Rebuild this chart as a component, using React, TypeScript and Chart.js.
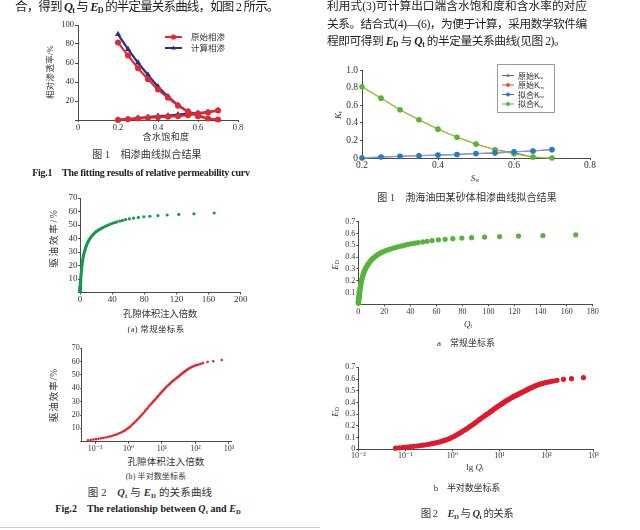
import React, { useEffect, useLayoutEffect, useRef } from 'react';
import { Chart, registerables } from 'chart.js';

Chart.register(...registerables);

const SERIF = "'Liberation Serif', 'DejaVu Serif', serif";
const CJK = "'Noto Sans CJK SC', 'Noto Sans', sans-serif";
const MIXED = "'Liberation Serif', 'Noto Sans CJK SC', serif";
const INK = '#333333';
const AXIS = '#4a4a4a';

// ---------- Fig.1 (left): relative permeability, % ----------
const SW_LEFT = [0.2, 0.25, 0.3, 0.35, 0.4, 0.45, 0.5, 0.55, 0.6, 0.65, 0.7];
const KRO_ORIG_LEFT = [81.5, 68, 54.5, 43, 32, 23.5, 15, 9, 4, 1.5, 0.5];
const KRW_ORIG_LEFT = [0, 0.8, 1.5, 2.2, 3, 3.5, 4, 5, 6.5, 8, 10];
const KRO_CALC_LEFT = [90.2, 74.5, 60.3, 47.4, 35.1, 24.6, 15.8, 8.8, 5.3, 1, 0];
const KRW_CALC_LEFT = [0.3, 1, 2, 3, 4, 4.6, 5.6, 6.7, 7.3, 8.4, 10.1];
const LEGEND_LEFT = ['原始相渗', '计算相渗'];

// ---------- Fig.1 (right): relative permeability, fraction ----------
const SW_RIGHT = [0.2, 0.25, 0.3, 0.35, 0.4, 0.45, 0.5, 0.55, 0.6, 0.65, 0.7];
const KRO_ORIG_RIGHT = [0.81, 0.68, 0.548, 0.434, 0.328, 0.236, 0.158, 0.094, 0.062, 0.01, 0];
const KRW_ORIG_RIGHT = [0, 0.011, 0.019, 0.026, 0.033, 0.04, 0.05, 0.053, 0.07, 0.08, 0.095];
const KRW_FIT_RIGHT = [0, 0.011, 0.019, 0.026, 0.033, 0.04, 0.05, 0.06, 0.07, 0.08, 0.095];
const KRO_FIT_RIGHT = [0.81, 0.68, 0.548, 0.434, 0.328, 0.236, 0.158, 0.094, 0.047, 0.01, 0];
const LEGEND_RIGHT = ['原始K_ro', '原始K_rw', '拟合K_rw', '拟合K_ro'];

// ---------- Fig.2: injected pore volumes Qt vs displacement efficiency ED ----------
const QT = [0.062, 0.075, 0.090, 0.107, 0.127, 0.150, 0.176, 0.205, 0.238, 0.275,
  0.316, 0.362, 0.413, 0.470, 0.533, 0.603, 0.680, 0.765, 0.858, 0.96,
  1.07, 1.19, 1.32, 1.46, 1.61, 1.78, 1.96, 2.16, 2.38, 2.62,
  2.88, 3.16, 3.47, 3.80, 4.16, 4.55, 4.97, 5.43, 5.93, 6.47,
  7.05, 7.68, 8.36, 9.09, 9.88, 10.7, 11.6, 12.6, 13.6, 14.7,
  15.9, 17.2, 18.6, 20.1, 21.7, 23.4, 25.2, 27.1, 29.1, 31.2,
  33.4, 35.7, 38.1, 40.6, 43.2, 45.9, 49.5, 52.8, 56.7, 61.5,
  66.7, 72.6, 79.5, 87, 97, 108.5, 123, 141.8, 167, 230,
  340, 610];
const ED = [0.010, 0.013, 0.016, 0.019, 0.022, 0.025, 0.028, 0.032, 0.035, 0.039,
  0.043, 0.048, 0.052, 0.057, 0.063, 0.069, 0.076, 0.083, 0.091, 0.100,
  0.109, 0.120, 0.130, 0.140, 0.151, 0.162, 0.172, 0.184, 0.196, 0.207,
  0.219, 0.231, 0.243, 0.255, 0.267, 0.278, 0.289, 0.300, 0.310, 0.321,
  0.332, 0.343, 0.353, 0.364, 0.374, 0.383, 0.392, 0.402, 0.411, 0.419,
  0.427, 0.435, 0.443, 0.451, 0.457, 0.464, 0.470, 0.477, 0.483, 0.489,
  0.495, 0.501, 0.507, 0.513, 0.518, 0.523, 0.529, 0.534, 0.540, 0.546,
  0.551, 0.556, 0.561, 0.565, 0.570, 0.574, 0.578, 0.583, 0.589, 0.597,
  0.603, 0.612];
const QT_REGULAR_MAX = 170;
const LOG_TICKS_LEFT = [0.1, 1, 10, 100, 1000];
const LOG_TICKS_RIGHT = [0.01, 0.1, 1, 10, 100, 1000];

// ---------- helpers ----------
type Frame = { left: number; top: number; w: number; h: number; x0: number; x1: number; y0: number; y1: number };

const F1: Frame = { left: 30, top: 15, w: 230, h: 130, x0: 78, x1: 238, y0: 25, y1: 120 };
const F2: Frame = { left: 322, top: 60, w: 288, h: 115, x0: 362, x1: 590, y0: 70, y1: 158 };
const F3: Frame = { left: 35, top: 188, w: 225, h: 125, x0: 80, x1: 240.7, y0: 198, y1: 292.5 };
const F4: Frame = { left: 325, top: 212, w: 285, h: 108, x0: 358.3, x1: 592.7, y0: 221.7, y1: 304.3 };
const F5: Frame = { left: 40, top: 338, w: 210, h: 118, x0: 81.7, x1: 231, y0: 348.3, y1: 441.7 };
const F6: Frame = { left: 325, top: 357, w: 285, h: 105, x0: 358.3, x1: 593.5, y0: 367.3, y1: 449.3 };

const pts = (xs: number[], ys: number[], k = 1) => xs.map((x, i) => ({ x, y: ys[i] * k }));

const SUP: Record<string, string> = { '-': '⁻', '0': '⁰', '1': '¹', '2': '²', '3': '³' };
const powLabel = (v: number) =>
  '10' + String(Math.round(Math.log10(v))).split('').map((c) => SUP[c] || c).join('');

function drawMarker(ctx: CanvasRenderingContext2D, style: string, x: number, y: number, r: number, color: string) {
  ctx.fillStyle = color;
  ctx.beginPath();
  if (style === 'triangle') {
    ctx.moveTo(x, y - r);
    ctx.lineTo(x + r * 0.95, y + r * 0.6);
    ctx.lineTo(x - r * 0.95, y + r * 0.6);
    ctx.closePath();
  } else {
    ctx.arc(x, y, r, 0, Math.PI * 2);
  }
  ctx.fill();
}

const insetLegend = {
  id: 'insetLegend',
  afterDraw(chart: any, _args: any, opts: any) {
    if (!opts || opts.x === undefined) return;
    const ctx: CanvasRenderingContext2D = chart.ctx;
    ctx.save();
    if (opts.boxW) {
      ctx.fillStyle = '#ffffff';
      ctx.fillRect(opts.boxX, opts.boxY, opts.boxW, opts.boxH);
      ctx.strokeStyle = '#9a9a9a';
      ctx.lineWidth = 1;
      ctx.strokeRect(opts.boxX + 0.5, opts.boxY + 0.5, opts.boxW, opts.boxH);
    }
    let row = 0;
    chart.data.datasets.forEach((ds: any) => {
      if (!ds.label) return;
      const cy = opts.y + row * opts.rowH;
      ctx.strokeStyle = ds.legendLine || ds.borderColor;
      ctx.lineWidth = opts.lineWidth;
      ctx.beginPath();
      ctx.moveTo(opts.x, cy);
      ctx.lineTo(opts.x + opts.lineLen, cy);
      ctx.stroke();
      drawMarker(ctx, ds.pointStyle, opts.x + opts.lineLen / 2, cy, opts.markerR, ds.pointBackgroundColor);
      const parts = String(ds.label).split('_');
      const tx = opts.x + opts.lineLen + opts.textGap;
      ctx.fillStyle = INK;
      ctx.textAlign = 'left';
      ctx.textBaseline = 'middle';
      ctx.font = `${opts.fontSize}px ${CJK}`;
      ctx.fillText(parts[0], tx, cy);
      if (parts[1]) {
        const wMain = ctx.measureText(parts[0]).width;
        ctx.font = `${opts.fontSize * 0.62}px ${SERIF}`;
        ctx.fillText(parts[1], tx + wMain, cy + opts.fontSize * 0.32);
      }
      row++;
    });
    ctx.restore();
  },
};

function axisOpts(o: {
  fontSize: number; tickLen: number; pad: number; type?: string; min: number; max: number;
  step?: number; callback?: (v: any) => string; logTicks?: number[]; dash?: number[];
}) {
  const s: any = {
    type: o.type || 'linear',
    min: o.min,
    max: o.max,
    grid: { display: true, drawOnChartArea: false, drawTicks: true, tickLength: o.tickLen, color: AXIS, lineWidth: 1 },
    border: { display: true, color: AXIS, width: 1, dash: o.dash || [] },
    ticks: {
      font: { family: SERIF, size: o.fontSize },
      color: INK,
      padding: o.pad,
      maxRotation: 0,
      minRotation: 0,
      autoSkip: false,
    },
  };
  if (o.step !== undefined) s.ticks.stepSize = o.step;
  if (o.callback) s.ticks.callback = o.callback;
  if (o.logTicks) {
    const lt = o.logTicks;
    s.afterBuildTicks = (scale: any) => {
      scale.ticks = lt.map((v) => ({ value: v }));
    };
  }
  return s;
}

function makeOptions(f: Frame, x: any, y: any, legend: any = null) {
  const leg = legend
    ? {
        ...legend,
        x: legend.x - f.left,
        y: legend.y - f.top,
        boxX: legend.boxW ? legend.boxX - f.left : 0,
        boxY: legend.boxW ? legend.boxY - f.top : 0,
      }
    : {};
  return {
    responsive: false,
    maintainAspectRatio: false,
    animation: false,
    events: [],
    layout: { padding: { left: 0, top: f.y0 - f.top, right: f.left + f.w - f.x1, bottom: 0 } },
    plugins: {
      legend: { display: false },
      tooltip: { enabled: false },
      title: { display: false },
      insetLegend: leg,
    },
    scales: {
      x: { ...x, position: 'bottom', afterFit: (s: any) => { s.height = f.top + f.h - f.y1; } },
      y: { ...y, position: 'left', afterFit: (s: any) => { s.width = f.x0 - f.left; } },
    },
  };
}

const lineDs = (color: string, style: string, r: number, width: number, extra: any = {}) => ({
  borderColor: color,
  backgroundColor: color,
  pointBackgroundColor: color,
  pointBorderColor: color,
  pointBorderWidth: 0,
  pointStyle: style,
  pointRadius: r,
  borderWidth: width,
  showLine: true,
  tension: 0,
  clip: false,
  ...extra,
});

const dotDs = (color: string, r: number) => ({
  backgroundColor: color,
  borderColor: color,
  pointBackgroundColor: color,
  pointBorderColor: color,
  pointBorderWidth: 0,
  pointRadius: r,
  showLine: false,
  clip: false,
});

const fmt1 = (v: any) => (Number(v) === 0 ? '0' : Number(v).toFixed(1));
const hideZero = (v: any) => (Number(v) === 0 ? '' : String(Number(Number(v).toFixed(2))));

const RED1 = '#e3282e';
const BLUE1 = '#2c2f86';

function chart1() {
  return {
    type: 'scatter',
    data: {
      datasets: [
        { label: LEGEND_LEFT[0], data: pts(SW_LEFT, KRO_ORIG_LEFT), ...lineDs(RED1, 'circle', 3, 2.2) },
        { label: '', data: pts(SW_LEFT, KRW_ORIG_LEFT), ...lineDs(RED1, 'circle', 3, 2.2) },
        { label: LEGEND_LEFT[1], data: pts(SW_LEFT, KRO_CALC_LEFT), ...lineDs(BLUE1, 'triangle', 3.6, 2.2) },
        { label: '', data: pts(SW_LEFT, KRW_CALC_LEFT), ...lineDs(BLUE1, 'triangle', 3.6, 2.2) },
      ],
    },
    options: makeOptions(
      F1,
      axisOpts({ fontSize: 8.5, tickLen: 2, pad: 1, min: 0, max: 0.8, step: 0.2 }),
      axisOpts({ fontSize: 8.5, tickLen: 3, pad: 1, min: 0, max: 100, step: 20, callback: hideZero }),
      { x: 165, y: 37, rowH: 11, lineLen: 17, textGap: 9, fontSize: 8.5, markerR: 2.6, lineWidth: 2 }
    ),
    plugins: [insetLegend],
  };
}

function chart2() {
  return {
    type: 'scatter',
    data: {
      datasets: [
        { label: LEGEND_RIGHT[0], data: pts(SW_RIGHT, KRO_ORIG_RIGHT), order: 2, ...lineDs('#7a5fa8', 'triangle', 2.6, 1) },
        { label: LEGEND_RIGHT[1], data: pts(SW_RIGHT, KRW_ORIG_RIGHT), order: 2, ...lineDs('#e2533b', 'circle', 2.4, 1) },
        { label: LEGEND_RIGHT[2], data: pts(SW_RIGHT, KRW_FIT_RIGHT), order: 1, ...lineDs('#6ea6dc', 'circle', 2.8, 1.3, { pointBackgroundColor: '#2a78c6', pointBorderColor: '#2a78c6', legendLine: '#2a78c6' }) },
        { label: LEGEND_RIGHT[3], data: pts(SW_RIGHT, KRO_FIT_RIGHT), order: 1, ...lineDs('#a9c040', 'circle', 2.8, 1.3, { pointBackgroundColor: '#58b534', pointBorderColor: '#58b534', legendLine: '#58b534' }) },
      ],
    },
    options: makeOptions(
      F2,
      axisOpts({ fontSize: 9.5, tickLen: 2, pad: 0, min: 0.2, max: 0.8, step: 0.2, callback: fmt1 }),
      axisOpts({ fontSize: 9.5, tickLen: 2, pad: 2, min: 0, max: 1, step: 0.2, callback: fmt1 }),
      { x: 502, y: 75.5, rowH: 9.5, lineLen: 12, textGap: 4, fontSize: 8, markerR: 2, lineWidth: 1,
        boxX: 497, boxY: 64, boxW: 57, boxH: 48 }
    ),
    plugins: [insetLegend],
  };
}

function regularData(k: number) {
  const xs: number[] = [];
  const ys: number[] = [];
  QT.forEach((q, i) => {
    if (q <= QT_REGULAR_MAX) { xs.push(q); ys.push(ED[i]); }
  });
  return pts(xs, ys, k);
}

function chart3() {
  return {
    type: 'scatter',
    data: { datasets: [{ label: '驱油效率', data: regularData(100), ...dotDs('#16994c', 1.6) }] },
    options: makeOptions(
      F3,
      axisOpts({ fontSize: 9, tickLen: 2, pad: 0, min: 0, max: 200, step: 40 }),
      axisOpts({ fontSize: 9, tickLen: 2, pad: 0.5, min: 0, max: 70, step: 10, callback: hideZero })
    ),
  };
}

function chart4() {
  return {
    type: 'scatter',
    data: { datasets: [{ label: 'ED', data: regularData(1), ...dotDs('#56b43c', 2.6) }] },
    options: makeOptions(
      F4,
      axisOpts({ fontSize: 8, tickLen: 2, pad: 1, min: 0, max: 180, step: 20 }),
      axisOpts({ fontSize: 8, tickLen: 2, pad: 1, min: 0, max: 0.7, step: 0.1, callback: hideZero })
    ),
  };
}

function chart5() {
  return {
    type: 'scatter',
    data: { datasets: [{ label: '驱油效率', data: pts(QT, ED, 100), ...dotDs('#e3262d', 1.3) }] },
    options: makeOptions(
      F5,
      axisOpts({ fontSize: 8, tickLen: 2, pad: 0, type: 'logarithmic', min: 0.04, max: 1150,
        logTicks: LOG_TICKS_LEFT, callback: powLabel, dash: [3, 2] }),
      axisOpts({ fontSize: 8, tickLen: 1.5, pad: 0.5, min: 0, max: 70, step: 10, callback: hideZero })
    ),
  };
}

function chart6() {
  return {
    type: 'scatter',
    data: { datasets: [{ label: 'ED', data: pts(QT, ED), ...dotDs('#e0192d', 2.6) }] },
    options: makeOptions(
      F6,
      axisOpts({ fontSize: 8, tickLen: 2, pad: 0, type: 'logarithmic', min: 0.01, max: 1000,
        logTicks: LOG_TICKS_RIGHT, callback: powLabel }),
      axisOpts({ fontSize: 8, tickLen: 2, pad: 1, min: 0, max: 0.7, step: 0.1,
        callback: (v: any) => (Number(v) === 0 ? '0' : String(Number(Number(v).toFixed(2)))) })
    ),
  };
}

function ChartBox({ frame, make }: { frame: Frame; make: () => any }) {
  const ref = useRef<HTMLCanvasElement>(null);
  useEffect(() => {
    const chart = new Chart(ref.current as HTMLCanvasElement, make() as any);
    return () => chart.destroy();
  }, []);
  return (
    <canvas
      ref={ref}
      width={frame.w}
      height={frame.h}
      style={{ position: 'absolute', left: frame.left, top: frame.top, width: frame.w, height: frame.h }}
    />
  );
}

function Txt({ x, y, w, size, rot = 0, anchor = 'c', bold = false, family = MIXED, color = INK, children }: any) {
  const ref = useRef<HTMLDivElement>(null);
  useLayoutEffect(() => {
    const el = ref.current;
    if (!el || !w) return;
    el.style.letterSpacing = '0px';
    const n = (el.textContent || '').length;
    const natural = el.offsetWidth;
    if (n > 0) el.style.letterSpacing = `${(w - natural) / n}px`;
  }, [w]);
  const tx = anchor === 'c' ? '-50%' : '0';
  return (
    <div
      ref={ref}
      style={{
        position: 'absolute', left: x, top: y,
        transform: `translate(${tx}, -50%) rotate(${rot}deg)`,
        fontSize: size, fontFamily: family, fontWeight: bold ? 700 : 400, color,
        whiteSpace: 'nowrap', lineHeight: 1, zIndex: 2,
      }}
    >
      {children}
    </div>
  );
}

const Sub = ({ c }: { c: string }) => (
  <sub style={{ fontSize: '0.65em', verticalAlign: '-0.3em', lineHeight: 0, fontStyle: 'normal' }}>{c}</sub>
);
const V = ({ v, s, bold = false }: { v: string; s: string; bold?: boolean }) => (
  <span style={{ fontFamily: SERIF, fontStyle: 'italic', fontWeight: bold ? 700 : 400 }}>
    {v}
    <Sub c={s} />
  </span>
);

export default function App() {
  return (
    <div style={{ position: 'fixed', left: 0, top: 0, width: 640, height: 530, background: '#ffffff', overflow: 'hidden' }}>
      <ChartBox frame={F1} make={chart1} />
      <ChartBox frame={F2} make={chart2} />
      <ChartBox frame={F3} make={chart3} />
      <ChartBox frame={F4} make={chart4} />
      <ChartBox frame={F5} make={chart5} />
      <ChartBox frame={F6} make={chart6} />

      {/* left column */}
      <Txt x={15} y={7} w={263} size={12.5} anchor="l" color="#222">
        合，得到 <V v="Q" s="t" bold /> 与 <V v="E" s="D" bold /> 的半定量关系曲线，如图 2 所示。
      </Txt>
      <Txt x={50} y={72} w={54} size={8.5} rot={-90}>相对渗透率/%</Txt>
      <Txt x={166} y={137} w={47} size={9}>含水饱和度</Txt>
      <Txt x={147} y={155} w={110} size={10}>图 1　相渗曲线拟合结果</Txt>
      <Txt x={141} y={173} w={218} size={10} bold family={SERIF} color="#222">
        Fig.1　The fitting results of relative permeability curv
      </Txt>

      <Txt x={55} y={238} w={60} size={9.5} rot={-90}>驱油效率/%</Txt>
      <Txt x={160} y={315} w={74} size={9.5}>孔隙体积注入倍数</Txt>
      <Txt x={156} y={329} w={57} size={8.5}>(a) 常规坐标系</Txt>

      <Txt x={55} y={395} w={55} size={9.5} rot={-90}>驱油效率/%</Txt>
      <Txt x={166} y={463} w={77} size={9.5}>孔隙体积注入倍数</Txt>
      <Txt x={156} y={477} w={60} size={8}>(b) 半对数坐标系</Txt>
      <Txt x={150} y={493} w={125} size={10.5}>
        图 2　<V v="Q" s="t" bold /> 与 <V v="E" s="D" bold /> 的关系曲线
      </Txt>
      <Txt x={148} y={509} w={185} size={10} bold family={SERIF} color="#222">
        Fig.2　The relationship between <V v="Q" s="t" bold /> and <V v="E" s="D" bold />
      </Txt>
      <div style={{ position: 'absolute', left: 0, top: 527, width: 320, height: 1, background: '#cfcfcf' }} />

      {/* right column */}
      <Txt x={327} y={7} w={260} size={11.7} anchor="l" color="#222">利用式(3)可计算出口端含水饱和度和含水率的对应</Txt>
      <Txt x={327} y={25} w={260} size={11.7} anchor="l" color="#222">关系。结合式(4)—(6)，为便于计算，采用数学软件编</Txt>
      <Txt x={327} y={42} w={238} size={11.7} anchor="l" color="#222">
        程即可得到 <V v="E" s="D" bold /> 与 <V v="Q" s="t" bold /> 的半定量关系曲线(见图 2)。
      </Txt>

      <Txt x={338} y={115} size={9} rot={-90}><V v="K" s="r" /></Txt>
      <Txt x={475} y={178} size={9}><V v="S" s="w" /></Txt>
      <Txt x={467} y={198} w={180} size={10}>图 1　渤海油田某砂体相渗曲线拟合结果</Txt>

      <Txt x={335} y={265} size={9} rot={-90}><V v="E" s="D" /></Txt>
      <Txt x={468} y={324} size={9}><V v="Q" s="t" /></Txt>
      <Txt x={466} y={343} w={58} size={9}>a　常规坐标系</Txt>

      <Txt x={335} y={412} size={9} rot={-90}><V v="E" s="D" /></Txt>
      <Txt x={475} y={467} size={9}>
        <span style={{ fontFamily: SERIF }}>lg</span> <V v="Q" s="t" />
      </Txt>
      <Txt x={467} y={488} w={67} size={9}>b　半对数坐标系</Txt>
      <Txt x={467} y={514} w={93} size={10.5}>
        图 2　<V v="E" s="D" bold /> 与 <V v="Q" s="t" bold /> 的关系
      </Txt>
    </div>
  );
}
